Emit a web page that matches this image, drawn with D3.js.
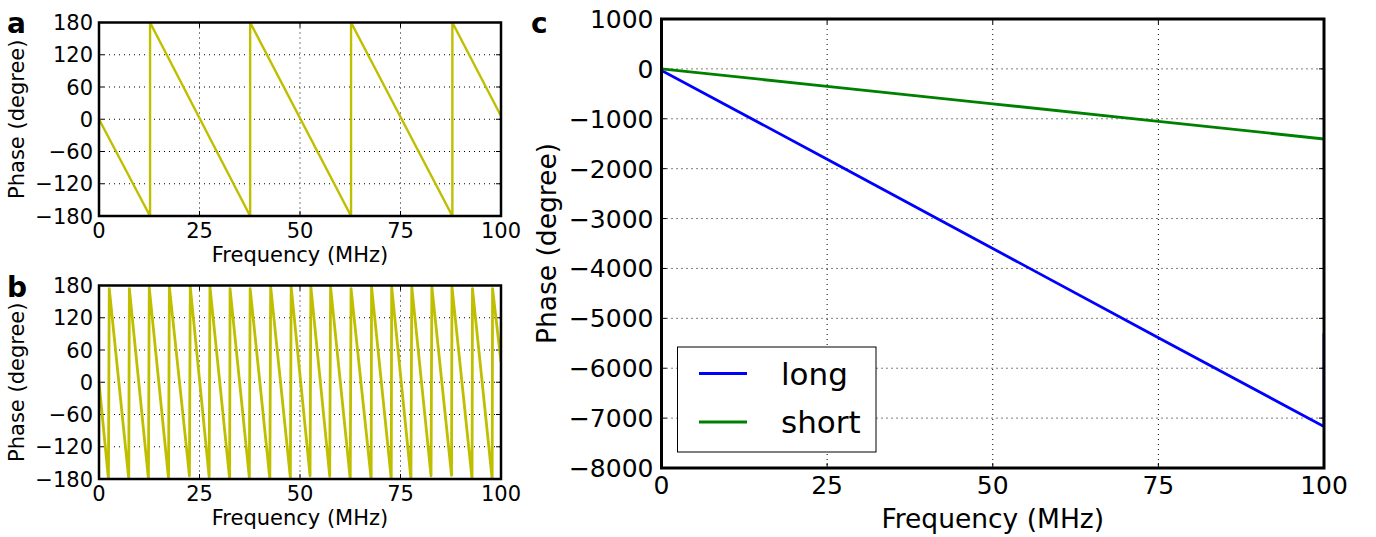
<!DOCTYPE html>
<html>
<head>
<meta charset="utf-8">
<script src="https://cdn.jsdelivr.net/npm/d3@7"></script>
<style>
  html, body { margin: 0; padding: 0; background: #fff; }
  svg { display: block; font-family: "DejaVu Sans", sans-serif; }
</style>
</head>
<body>
<svg id="chart" width="1376" height="537"></svg>
<script>

// Tick values.
var freqTicks = [0, 25, 50, 75, 100];
var wrapTicks = [-180, -120, -60, 0, 60, 120, 180];
var unwrapTicks = [1000, 0, -1000, -2000, -3000, -4000, -5000, -6000, -7000,
  -8000];

// Panel a: wrapped phase, short cable.
var aFreq = [0, 12.7, 12.7, 37.6, 37.6, 62.7, 62.7, 87.9, 87.9, 100];
var aPhase = [0, -180, 180, -180, 180, -180, 180, -180, 180, 6];

// Panel b: wrapped phase, long cable.
var bFreq = [0,
  2.35, 2.55, 7.4, 7.55, 12.3, 12.5, 17.3, 17.5, 22.5, 22.7,
  27.4, 27.6, 32.5, 32.6, 37.4, 37.6, 42.5, 42.7, 47.6, 47.8,
  52.5, 52.7, 57.4, 57.6, 62.5, 62.7, 67.7, 67.8, 72.7, 72.8,
  77.6, 77.8, 82.6, 82.8, 87.7, 87.8, 92.8, 92.9, 97.8, 97.9,
  100];
var bPhase = [0,
  -180, 174, -180, 174, -180, 176, -180, 178, -174, 178,
  -176, 178, -180, 174, -178, 174, -180, 178, -177, 178,
  -174, 178, -175, 178, -180, 174, -180, 178, -180, 178,
  -180, 178, -174, 178, -173, 178, -180, 174, -180, 174,
  38];

// Panel c: unwrapped phase.
var longFreq = [0, 25, 50, 75, 100, 100];
var longPhase = [-30, -1810, -3600, -5390, -7170, -5300];
var shortFreq = [0, 25, 50, 75, 100];
var shortPhase = [0, -350, -700, -1050, -1406];

var seriesNames = ['long', 'short'];
var seriesColors = ['#0000ff', '#008000'];

var svg = d3.select('#chart');


/**
 * Draw one axes box with grid, ticks, labels and lines.
 */
function drawPanel(p) {

  var x = d3.scaleLinear().domain([0, 100]).range([p.left, p.right]);
  var y = d3.scaleLinear().domain(p.yDomain).range([p.bottom, p.top]);
  var g = svg.append('g');
  var fmt = d3.format('d');

  // Dotted grid.
  g.selectAll('.gx').data(p.xTicks.slice(1, -1)).enter().append('line')
    .attr('x1', x).attr('x2', x).attr('y1', p.top).attr('y2', p.bottom)
    .attr('stroke', '#000').attr('stroke-width', 1)
    .attr('stroke-dasharray', '1,4');
  g.selectAll('.gy').data(p.yTicks.slice(1, -1)).enter().append('line')
    .attr('y1', y).attr('y2', y).attr('x1', p.left).attr('x2', p.right)
    .attr('stroke', '#000').attr('stroke-width', 1)
    .attr('stroke-dasharray', '1,4');

  // Inward ticks on all four sides.
  var tl = 5;
  p.xTicks.forEach(function(t) {
    g.append('line').attr('x1', x(t)).attr('x2', x(t))
      .attr('y1', p.bottom).attr('y2', p.bottom - tl).attr('stroke', '#000');
    g.append('line').attr('x1', x(t)).attr('x2', x(t))
      .attr('y1', p.top).attr('y2', p.top + tl).attr('stroke', '#000');
  });
  p.yTicks.forEach(function(t) {
    g.append('line').attr('y1', y(t)).attr('y2', y(t))
      .attr('x1', p.left).attr('x2', p.left + tl).attr('stroke', '#000');
    g.append('line').attr('y1', y(t)).attr('y2', y(t))
      .attr('x1', p.right).attr('x2', p.right - tl).attr('stroke', '#000');
  });

  // Data lines, clipped to the axes.
  var clipId = 'clip-' + p.name;
  svg.append('clipPath').attr('id', clipId).append('rect')
    .attr('x', p.left).attr('y', p.top)
    .attr('width', p.right - p.left).attr('height', p.bottom - p.top);

  var line = d3.line().x(function(d) { return x(d[0]); })
    .y(function(d) { return y(d[1]); });

  p.series.forEach(function(s) {
    var pts = s.freq.map(function(f, i) { return [f, s.phase[i]]; });
    g.append('path').datum(pts).attr('d', line)
      .attr('fill', 'none').attr('stroke', s.color)
      .attr('stroke-width', s.width).attr('stroke-linejoin', 'round')
      .attr('clip-path', 'url(#' + clipId + ')');
  });

  // Frame.
  g.append('rect').attr('x', p.left).attr('y', p.top)
    .attr('width', p.right - p.left).attr('height', p.bottom - p.top)
    .attr('fill', 'none').attr('stroke', '#000')
    .attr('stroke-width', p.frame);

  // Tick labels.
  g.selectAll('.tx').data(p.xTicks).enter().append('text')
    .attr('x', x).attr('y', p.bottom + p.xPad)
    .attr('text-anchor', 'middle').attr('font-size', p.tickSize)
    .text(fmt);
  g.selectAll('.ty').data(p.yTicks).enter().append('text')
    .attr('x', p.left - p.yPad).attr('y', function(d) { return y(d); })
    .attr('dy', '0.36em').attr('text-anchor', 'end')
    .attr('font-size', p.tickSize).text(fmt);

  // Axis titles.
  g.append('text').attr('x', (p.left + p.right) / 2).attr('y', p.xLabelY)
    .attr('text-anchor', 'middle').attr('font-size', p.labelSize)
    .text('Frequency (MHz)');
  g.append('text')
    .attr('transform', 'translate(' + p.yLabelX + ',' +
      (p.top + p.bottom) / 2 + ') rotate(-90)')
    .attr('text-anchor', 'middle').attr('font-size', p.labelSize)
    .text('Phase (degree)');

  // Panel letter.
  g.append('text').attr('x', p.letterX).attr('y', p.letterY)
    .attr('font-size', 28).attr('font-weight', 'bold').text(p.name);

  return { x: x, y: y, g: g };
}


drawPanel({
  name: 'a', left: 99, right: 501, top: 22.5, bottom: 216,
  yDomain: [-180, 180], xTicks: freqTicks, yTicks: wrapTicks,
  series: [{ freq: aFreq, phase: aPhase, color: '#bfbf00', width: 2.4 }],
  frame: 2.5, tickSize: 21, labelSize: 21, xPad: 22, yPad: 6,
  xLabelY: 262, yLabelX: 24, letterX: 7, letterY: 33
});

drawPanel({
  name: 'b', left: 99, right: 501, top: 285.5, bottom: 479,
  yDomain: [-180, 180], xTicks: freqTicks, yTicks: wrapTicks,
  series: [{ freq: bFreq, phase: bPhase, color: '#bfbf00', width: 2.8 }],
  frame: 2.5, tickSize: 21, labelSize: 21, xPad: 22, yPad: 6,
  xLabelY: 525, yLabelX: 24, letterX: 7, letterY: 297
});

var c = drawPanel({
  name: 'c', left: 661.5, right: 1324, top: 19, bottom: 468,
  yDomain: [-8000, 1000], xTicks: freqTicks, yTicks: unwrapTicks,
  series: [
    { freq: longFreq, phase: longPhase, color: seriesColors[0], width: 2.8 },
    { freq: shortFreq, phase: shortPhase, color: seriesColors[1], width: 2.8 }
  ],
  frame: 3, tickSize: 25, labelSize: 26.5, xPad: 26, yPad: 8,
  xLabelY: 528, yLabelX: 556, letterX: 531, letterY: 33
});

// Legend box.
var lg = c.g.append('g');
lg.append('rect').attr('x', 677.5).attr('y', 347)
  .attr('width', 198.5).attr('height', 105)
  .attr('fill', '#fff').attr('stroke', '#000').attr('stroke-width', 1);
seriesNames.forEach(function(n, i) {
  var ly = 373.5 + i * 48.5;
  lg.append('line').attr('x1', 699).attr('x2', 747)
    .attr('y1', ly).attr('y2', ly)
    .attr('stroke', seriesColors[i]).attr('stroke-width', 2.8);
  lg.append('text').attr('x', 781).attr('y', ly + 11)
    .attr('font-size', 31).text(n);
});

</script>
</body>
</html>
